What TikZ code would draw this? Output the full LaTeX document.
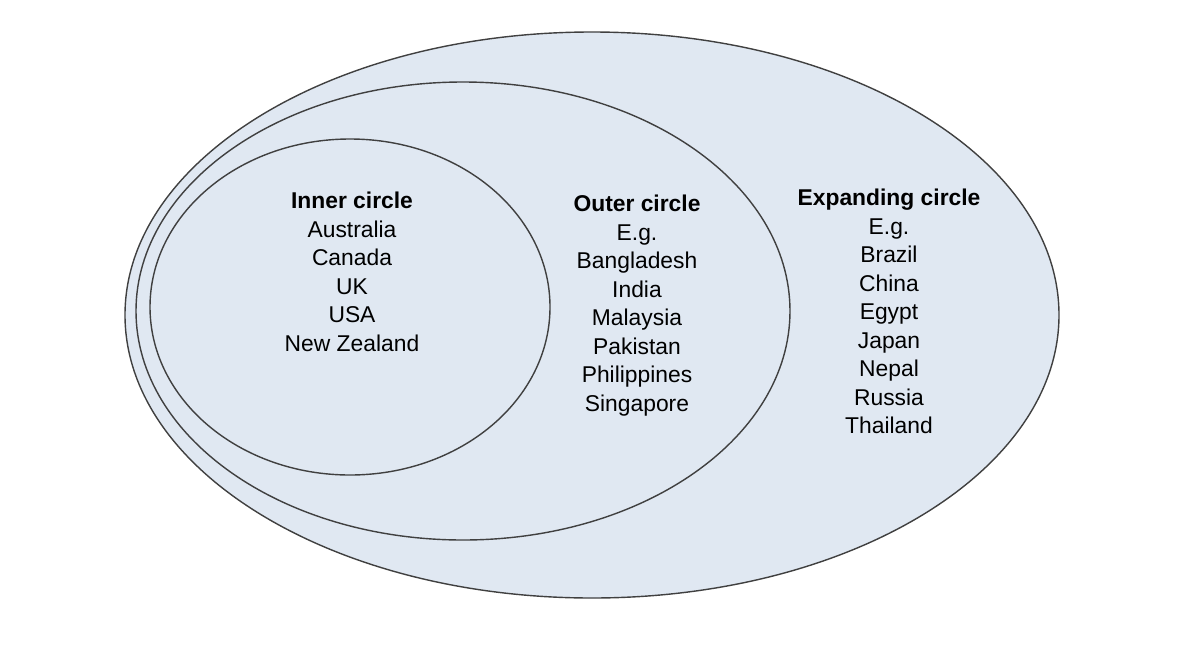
\documentclass[tikz,border=0pt]{standalone}
\usepackage{fontspec}
\setmainfont{Liberation Sans}
\usetikzlibrary{positioning}
\definecolor{circlefill}{HTML}{E0E8F2}
\begin{document}
\begin{tikzpicture}[
 x=0.02cm, y=-0.02cm,
 circ/.style={draw=black!75, line width=0.8pt, fill=circlefill},
 lbl/.style={align=center, font=\fontsize{13}{16.2}\selectfont, anchor=north}
]
 \useasboundingbox (0,0) rectangle (1200,646);
 % three nested circles
 \draw[circ] (592,315) ellipse [x radius=467, y radius=283];
 \draw[circ] (463,311) ellipse [x radius=327, y radius=229];
 \draw[circ] (350,307) ellipse [x radius=200, y radius=168];

 % labels
 \node[lbl] (inner) at (352,186) {\textbf{Inner circle}\\Australia\\Canada\\UK\\USA\\New Zealand};
 \node[lbl] (outer) at (637,189) {\textbf{Outer circle}\\E.g.\\Bangladesh\\India\\Malaysia\\Pakistan\\Philippines\\Singapore};
 \node[lbl] (expanding) at (889,183) {\textbf{Expanding circle}\\E.g.\\Brazil\\China\\Egypt\\Japan\\Nepal\\Russia\\Thailand};
\end{tikzpicture}
\end{document}
